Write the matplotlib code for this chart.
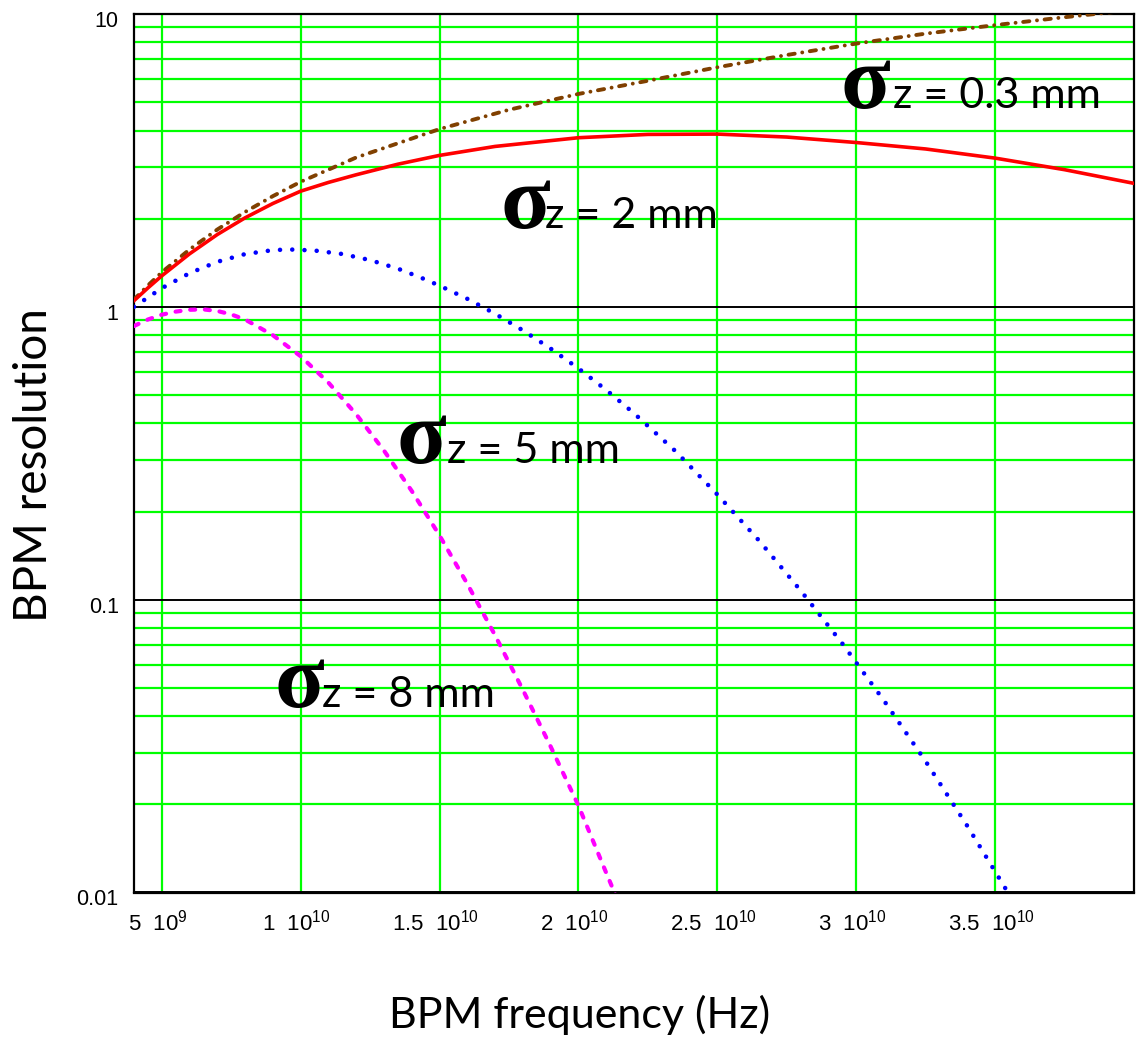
import numpy as np
import matplotlib
matplotlib.use("Agg")
import matplotlib.pyplot as plt
from matplotlib.ticker import LogLocator, NullFormatter, FixedLocator
from matplotlib.transforms import ScaledTranslation

plt.rcParams['lines.scale_dashes'] = False
plt.rcParams['mathtext.default'] = 'regular'
plt.rcParams['mathtext.fontset'] = 'custom'
plt.rcParams['mathtext.rm'] = 'Liberation Sans'

# ---- data (frequency in GHz, resolution) ----
f_sz03 = [4.0, 4.5, 5.0, 6.0, 7.0, 8.0, 9.0, 10.0, 12.0, 15.0, 17.5, 20.0, 22.5,
          25.0, 27.5, 30.0, 32.5, 35.0, 37.5, 40.0]
r_sz03 = [1.059, 1.183, 1.312, 1.570, 1.837, 2.109, 2.388, 2.673, 3.236, 4.046, 4.710,
          5.333, 5.916, 6.577, 7.244, 7.925, 8.570, 9.162, 9.750, 10.33]

f_sz2 = [4.0, 4.5, 5.0, 6.0, 7.0, 8.0, 9.0, 10.0, 11.0, 12.0, 13.5, 15.0, 17.0, 20.0,
         22.5, 25.0, 27.5, 30.0, 32.5, 35.0, 37.5, 40.0]
r_sz2 = [1.05, 1.16, 1.276, 1.517, 1.766, 2.014, 2.254, 2.483, 2.66, 2.825, 3.07, 3.29,
         3.53, 3.78, 3.88, 3.89, 3.80, 3.64, 3.46, 3.22, 2.94, 2.64]

f_sz5 = [4.0, 5.0, 6.0, 7.0, 8.0, 9.0, 9.6, 10.5, 11.5, 12.5, 13.5, 14.32, 15.0, 16.0,
         17.0, 18.0, 19.0, 20.0, 21.0, 22.0, 23.5, 25.0, 26.5, 28.0, 29.5, 31.0, 32.5,
         34.0, 35.5, 37.0]
r_sz5 = [1.0, 1.158, 1.303, 1.425, 1.514, 1.562, 1.570, 1.557, 1.515, 1.444, 1.350, 1.259,
         1.181, 1.065, 0.947, 0.831, 0.720, 0.616, 0.520, 0.433, 0.321, 0.2286, 0.1592,
         0.1074, 0.0708, 0.0452, 0.02805, 0.01687, 0.00986, 0.00558]

f_sz8 = [4.0, 4.5, 5.0, 5.5, 6.0, 6.5, 7.0, 7.5, 8.0, 9.0, 10.0, 11.0, 12.0, 13.0, 14.0,
         15.0, 16.0, 17.0, 18.0, 19.0, 20.0, 21.0, 22.0]
r_sz8 = [0.86, 0.905, 0.94, 0.963, 0.977, 0.98, 0.968, 0.942, 0.905, 0.80, 0.678, 0.551,
         0.4295, 0.3228, 0.2350, 0.1656, 0.1132, 0.0755, 0.0492, 0.0315, 0.0198, 0.01167,
         0.00692]

x_ticks = [5e9, 1e10, 1.5e10, 2e10, 2.5e10, 3e10, 3.5e10]
x_tick_labels = [r'5  10$^{9}$', r'1  10$^{10}$', r'1.5  10$^{10}$', r'2  10$^{10}$',
                 r'2.5  10$^{10}$', r'3  10$^{10}$', r'3.5  10$^{10}$']
y_ticks = [0.01, 0.1, 1, 10]
y_tick_labels = ['0.01', '0.1', '1', '10']

GHZ = 1e9

W, H = 1140, 1042
fig = plt.figure(figsize=(W / 100, H / 100), dpi=100)
ax = fig.add_axes([134 / W, 1 - 892.5 / H, 1000 / W, (892.5 - 14) / H])

ax.set_yscale('log')
ax.set_xlim(4e9, 4e10)
ax.set_ylim(0.01, 10)

green = '#00ff00'
ax.set_axisbelow(True)
ax.xaxis.set_major_locator(FixedLocator(x_ticks))
ax.set_xticklabels(x_tick_labels)
ax.yaxis.set_major_locator(FixedLocator(y_ticks))
ax.set_yticklabels(y_tick_labels)
ax.yaxis.set_minor_locator(LogLocator(base=10, subs=np.arange(2, 10)))
ax.yaxis.set_minor_formatter(NullFormatter())
ax.grid(True, axis='x', which='major', color=green, lw=1.6)
ax.grid(True, axis='y', which='minor', color=green, lw=1.6)
ax.grid(True, axis='y', which='major', color='black', lw=1.4)
ax.tick_params(which='both', length=0)
ax.tick_params(axis='x', pad=12, labelsize=16)
ax.tick_params(axis='y', pad=11, labelsize=15.5)
for lab in ax.get_xticklabels() + ax.get_yticklabels():
    lab.set_fontfamily('Liberation Sans')
for lab in ax.get_xticklabels():
    lab.set_transform(lab.get_transform() + ScaledTranslation(-4 / 100, 0, fig.dpi_scale_trans))
for lab in ax.get_yticklabels():
    lab.set_transform(lab.get_transform() + ScaledTranslation(0, -5 / 100, fig.dpi_scale_trans))
for s in ax.spines.values():
    s.set_linewidth(1.6)
    s.set_color('black')

# curves
ax.plot(np.array(f_sz03) * GHZ, r_sz03, color='#804000', lw=2.8,
        dashes=(4.5, 5.5, 0.01, 5.5), dash_capstyle='round', zorder=3)
ax.plot(np.array(f_sz2) * GHZ, r_sz2, color='#ff0000', lw=2.6, zorder=3)
ax.plot(np.array(f_sz5) * GHZ, r_sz5, color='#0000ff', lw=3.3,
        dashes=(0.01, 8.8), dash_capstyle='round', zorder=3)
ax.plot(np.array(f_sz8) * GHZ, r_sz8, color='#ff00ff', lw=3.0,
        dashes=(3.6, 7.0), dash_capstyle='round', zorder=3)

# labels
fig.text(580 / W, 1 - 1015 / H, 'BPM frequency (Hz)', ha='center', va='center',
         fontsize=31, family='Lato')
fig.text(34 / W, 1 - 465 / H, 'BPM resolution', ha='center', va='center',
         rotation=90, fontsize=33, family='Lato')

def sigma_label(x_sig, x_txt, y_base, txt):
    fig.text(x_sig / W, 1 - y_base / H, '\u03c3', ha='left', va='baseline',
             fontsize=66, family='Liberation Serif', fontweight='bold')
    fig.text(x_txt / W, 1 - y_base / H, txt, ha='left', va='baseline',
             fontsize=31, family='Lato')

sigma_label(841, 893, 108, 'z = 0.3 mm')
sigma_label(500, 545, 228, 'z = 2 mm')
sigma_label(397, 447, 463, 'z = 5 mm')
sigma_label(275, 322, 707, 'z = 8 mm')

fig.savefig('out.png', dpi=100)
